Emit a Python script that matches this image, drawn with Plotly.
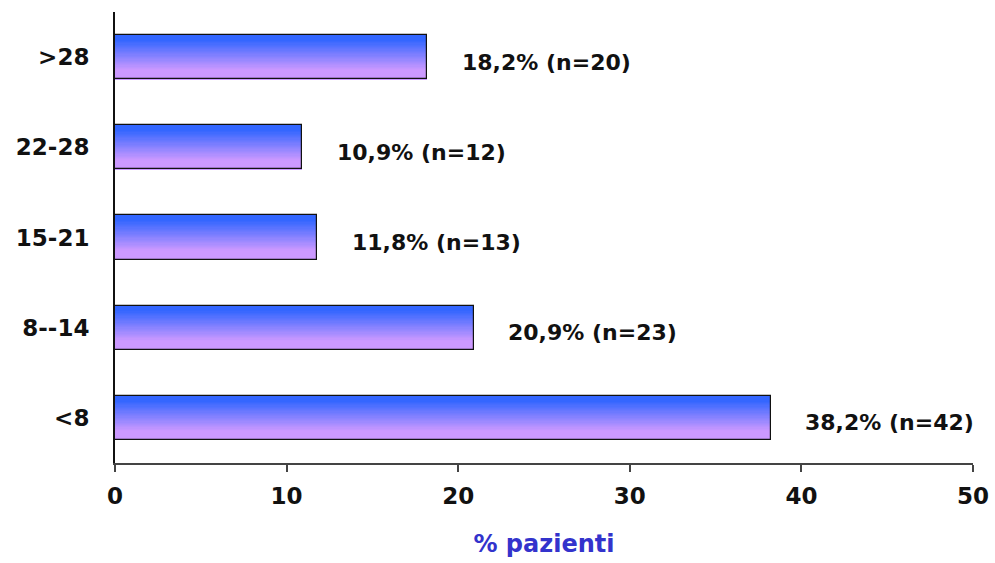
import plotly.graph_objects as go

# Days groups (bottom to top) and share of patients
categories = ["<8", "8--14", "15-21", "22-28", ">28"]
percent = [38.2, 20.9, 11.8, 10.9, 18.2]
counts = [42, 23, 13, 12, 20]
x_ticks = [0, 10, 20, 30, 40, 50]

BAR_W = 0.49
N_SLICES = 36
TOP_RGB = (51, 102, 255)
BOTTOM_RGB = (204, 153, 255)
FONT = "DejaVu Sans"


def blend(t):
    # ease the transition so the top stays blue and the bottom lavender
    t = min(max((t - 0.12) / 0.68, 0.0), 1.0)
    r, g, b = (round(a + (c - a) * t) for a, c in zip(TOP_RGB, BOTTOM_RGB))
    return f"rgb({r},{g},{b})"


fig = go.Figure()

# vertical gradient fill: thin stacked slices across each bar's thickness
step = BAR_W / N_SLICES
for i in range(N_SLICES):
    fig.add_trace(go.Bar(
        x=percent, y=categories, orientation="h",
        width=step * 1.08,
        offset=BAR_W / 2 - step * (i + 1),
        marker=dict(color=blend((i + 0.5) / N_SLICES), line=dict(width=0)),
        hoverinfo="skip", showlegend=False,
    ))

# outline of each bar
fig.add_trace(go.Bar(
    x=percent, y=categories, orientation="h", width=BAR_W,
    marker=dict(color="rgba(0,0,0,0)", line=dict(color="#111111", width=1.2)),
    showlegend=False,
    hovertemplate="%{y}: %{x}%<extra></extra>",
))

for cat, v, n in zip(categories, percent, counts):
    label = f"{v:.1f}".replace(".", ",") + f"% (n={n})"
    fig.add_annotation(
        x=v, y=cat, text=label, showarrow=False,
        xanchor="center", yanchor="middle", xshift=119, yshift=-5,
        font=dict(family=FONT, size=22, color="#111111", weight="bold"),
    )

fig.update_layout(
    width=995, height=563,
    margin=dict(l=115, r=22, t=12, b=100),
    paper_bgcolor="white", plot_bgcolor="white",
    barmode="overlay", bargap=0,
    showlegend=False,
    font=dict(family=FONT, color="#111111"),
)

fig.update_xaxes(
    range=[0, 50], tickvals=x_ticks, ticktext=[str(t) for t in x_ticks],
    automargin=False,
    showgrid=False, zeroline=False,
    showline=True, linecolor="#444444", linewidth=2,
    ticks="outside", ticklen=7, tickwidth=2, tickcolor="#444444",
    ticklabelstandoff=4,
    tickfont=dict(family=FONT, size=23, color="#111111", weight="bold"),
    title=dict(text="% pazienti", standoff=28,
               font=dict(family=FONT, size=24, color="#3333CC", weight="bold")),
)

fig.update_yaxes(
    type="category", categoryorder="array", categoryarray=categories,
    range=[-0.5, 4.5], automargin=False,
    showgrid=False, zeroline=False,
    showline=True, linecolor="#111111", linewidth=2,
    ticks="", ticklabelstandoff=19,
    tickfont=dict(family=FONT, size=23, color="#111111", weight="bold"),
)

fig.write_html("out.html")
